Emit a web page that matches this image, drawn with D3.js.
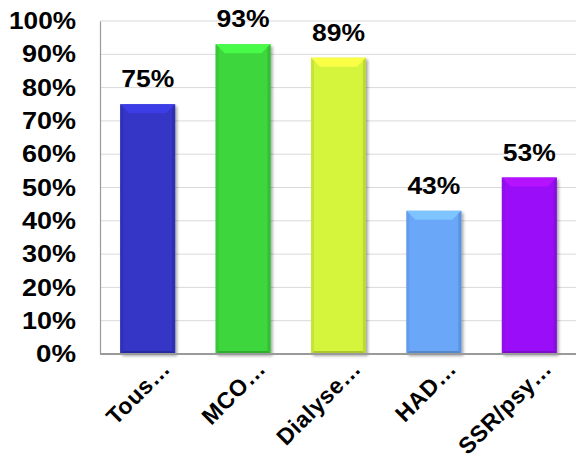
<!DOCTYPE html>
<html>
<head>
<meta charset="utf-8">
<script src="https://cdn.jsdelivr.net/npm/d3@7"></script>
<style>
  html, body { margin: 0; padding: 0; background: #fff; }
  svg { display: block; font-family: Arial, "Liberation Sans", Helvetica, sans-serif; }
</style>
</head>
<body>
<svg id="chart" width="576" height="463"></svg>
<script>
// Categories and their shares
const categories = ["Tous…", "MCO…", "Dialyse…", "HAD…", "SSR/psy…"];
const values = [75, 93, 89, 43, 53];
const barColors = ["#3434C6", "#3DD63D", "#D5F53C", "#6BA7F9", "#9A10F8"];
const tickValues = [0, 10, 20, 30, 40, 50, 60, 70, 80, 90, 100];

const svg = d3.select("#chart");
const margin = { left: 100, right: 0, top: 21, bottom: 109 };
const W = 576, H = 463;

const x = d3.scaleBand()
  .domain(categories)
  .range([margin.left, 577])
  .paddingInner(0.425)
  .paddingOuter(0.2125);

const y = d3.scaleLinear()
  .domain([0, 100])
  .range([H - margin.bottom, margin.top]);

// soft drop shadow for the bars
const defs = svg.append("defs");
const f = defs.append("filter").attr("id", "shadow")
  .attr("x", "-20%").attr("y", "-20%").attr("width", "150%").attr("height", "150%");
f.append("feDropShadow").attr("dx", 2).attr("dy", 2).attr("stdDeviation", 1.5)
  .attr("flood-color", "#000").attr("flood-opacity", 0.35);

// gridlines
svg.append("g")
  .selectAll("line")
  .data(tickValues.filter(d => d > 0))
  .join("line")
  .attr("x1", margin.left).attr("x2", W)
  .attr("y1", d => y(d)).attr("y2", d => y(d))
  .attr("stroke", "#d9d9d9").attr("stroke-width", 1);

// y axis
const yAxis = svg.append("g")
  .attr("transform", `translate(${margin.left},0)`)
  .call(d3.axisLeft(y).tickValues(tickValues).tickSize(0).tickPadding(24).tickFormat(d => d + "%"));
yAxis.select(".domain").attr("stroke", "#9a9a9a").attr("stroke-width", 1.2);
yAxis.selectAll("text")
  .attr("font-size", 24).attr("font-weight", "bold").attr("fill", "#000")
  .attr("font-family", "Arial, 'Liberation Sans', sans-serif")
  .attr("textLength", d => d === 100 ? 67 : (d === 0 ? 40 : 54))
  .attr("lengthAdjust", "spacingAndGlyphs");

// bars with a bevelled look
const bars = svg.append("g").selectAll("g.bar")
  .data(categories.map((c, i) => ({ c, v: values[i], col: barColors[i] })))
  .join("g").attr("class", "bar");

bars.each(function(d) {
  const g = d3.select(this);
  const x0 = x(d.c), w = x.bandwidth();
  const y0 = y(d.v), y1 = y(0);
  const h = y1 - y0;
  const bt = Math.min(9, h / 2), bs = 3, bb = 3;
  const base = d3.color(d.col);
  g.append("rect")
    .attr("x", x0).attr("y", y0).attr("width", w).attr("height", h)
    .attr("fill", d.col).attr("filter", "url(#shadow)");
  // top bevel
  g.append("polygon")
    .attr("points", [[x0, y0], [x0 + w, y0], [x0 + w - bt, y0 + bt], [x0 + bt, y0 + bt]].join(" "))
    .attr("fill", base.brighter(0.45));
  // left bevel
  g.append("polygon")
    .attr("points", [[x0, y0], [x0 + bs, y0 + bs], [x0 + bs, y1 - bb], [x0, y1]].join(" "))
    .attr("fill", base.darker(0.2));
  // right bevel
  g.append("polygon")
    .attr("points", [[x0 + w, y0], [x0 + w - bs, y0 + bs], [x0 + w - bs, y1 - bb], [x0 + w, y1]].join(" "))
    .attr("fill", base.darker(0.35));
  // bottom bevel
  g.append("polygon")
    .attr("points", [[x0, y1], [x0 + bs, y1 - bb], [x0 + w - bs, y1 - bb], [x0 + w, y1]].join(" "))
    .attr("fill", base.darker(0.6));
  // value label
  g.append("text")
    .attr("x", x0 + w / 2).attr("y", y0 - 17)
    .attr("text-anchor", "middle")
    .attr("font-size", 24).attr("font-weight", "bold").attr("fill", "#000")
    .attr("textLength", 53).attr("lengthAdjust", "spacingAndGlyphs")
    .text(d.v + "%");
});

// x axis baseline
svg.append("line")
  .attr("x1", margin.left).attr("x2", W)
  .attr("y1", y(0)).attr("y2", y(0))
  .attr("stroke", "#9a9a9a").attr("stroke-width", 2);

// rotated category labels
svg.append("g").selectAll("text")
  .data(categories)
  .join("text")
  .attr("transform", d => `translate(${x(d) + x.bandwidth() / 2 + 24},${y(0) + 16}) rotate(-45)`)
  .attr("text-anchor", "end")
  .attr("font-size", 23).attr("font-weight", "bold").attr("fill", "#000")
  .attr("letter-spacing", 0.6)
  .text(d => d);
</script>
</body>
</html>
